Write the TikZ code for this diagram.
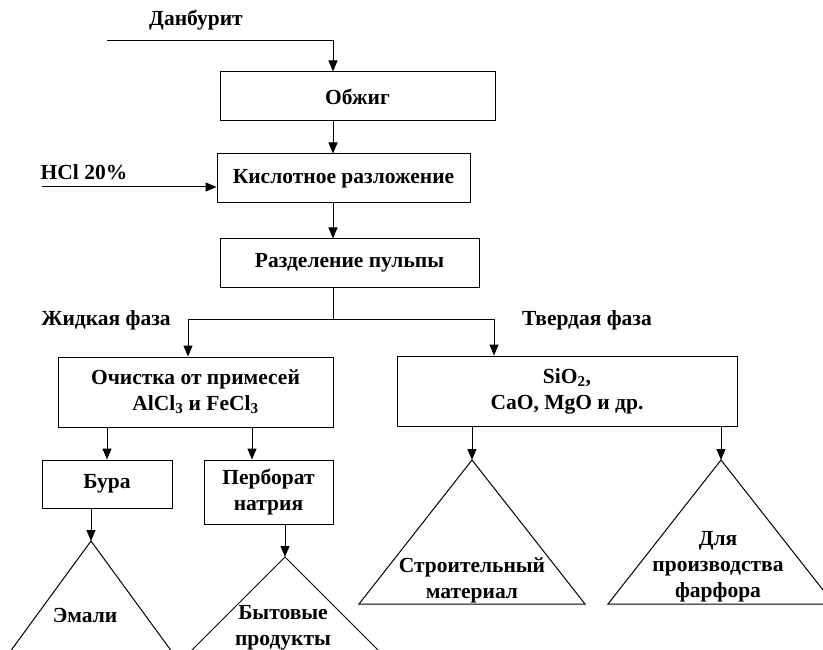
\documentclass[tikz,border=0pt]{standalone}
\usepackage{fontspec}
\setmainfont{Liberation Serif}
\usetikzlibrary{arrows.meta}
\tikzset{
  box/.style={draw, line width=1pt, inner sep=0pt, align=center, font=\bfseries\fontsize{21.5}{26}\selectfont},
  lbl/.style={inner sep=0pt, align=center, font=\bfseries\fontsize{21.5}{26}\selectfont},
  arr/.style={line width=1pt, -{Triangle[length=11pt,width=9pt]}},
  ln/.style={line width=1pt},
  tri/.style={line width=1pt, line join=miter},
}
\begin{document}
\begin{tikzpicture}[x=1pt,y=-1pt]
\useasboundingbox (0,0) rectangle (823,650);
% boxes
\node[box, minimum width=275pt, minimum height=49pt] (obzhig) at (357.5,96.5) {Обжиг};
\node[box, minimum width=253pt, minimum height=49pt] (kisl) at (343.5,178.5) {Кислотное разложение};
\node[box, minimum width=259pt, minimum height=48pt] (razd) at (349.5,263) {Разделение пульпы};
\node[box, minimum width=275pt, minimum height=70pt] (ochist) at (195.5,392) {Очистка от примесей\\AlCl\textsubscript{3} и FeCl\textsubscript{3}};
\node[box, minimum width=340pt, minimum height=70pt] (sio) at (567,391) {SiO\textsubscript{2},\\CaO, MgO и др.};
\node[box, minimum width=130pt, minimum height=48pt] (bura) at (107,484) {Бура};
\node[box, minimum width=129pt, minimum height=64pt] (perb) at (268.5,492) {Перборат\\натрия};
% labels
\node[lbl] (dan) at (196,20) {Данбурит};
\node[lbl] (hcl) at (84,172) {HCl 20\%};
\node[lbl] (zhid) at (106,320) {Жидкая фаза};
\node[lbl] (tverd) at (587,320) {Твердая фаза};
% coordinates
\coordinate (spine) at (333,0);
\coordinate (danstart) at (107,41);
\coordinate (hclstart) at (42,187);
\coordinate (split) at (333,319);
\coordinate (lbr) at (188,319);
\coordinate (rbr) at (494,319);
\coordinate (o1) at (107,0);
\coordinate (o2) at (252,0);
\coordinate (s1) at (472,0);
\coordinate (s2) at (721,0);
% triangles apexes
\coordinate (t1) at (91,541);
\coordinate (t2) at (285,557);
\coordinate (t3) at (472,460);
\coordinate (t4) at (721,460);
% connectors
\draw[arr] (danstart) -- (danstart -| spine) -- (obzhig.north -| spine);
\draw[arr] (obzhig.south -| spine) -- (kisl.north -| spine);
\draw[arr] (hclstart) -- (hclstart -| kisl.west);
\draw[arr] (kisl.south -| spine) -- (razd.north -| spine);
\draw[ln] (razd.south -| spine) -- (split);
\draw[arr] (split) -- (lbr) -- (ochist.north -| lbr);
\draw[arr] (split) -- (rbr) -- (sio.north -| rbr);
\draw[arr] (ochist.south -| o1) -- (bura.north -| o1);
\draw[arr] (ochist.south -| o2) -- (perb.north -| o2);
\draw[arr] (bura.south -| t1) -- (t1);
\draw[arr] (perb.south -| t2) -- (t2);
\draw[arr] (sio.south -| t3) -- (t3);
\draw[arr] (sio.south -| t4) -- (t4);
% triangles
\begin{scope}
\clip (0,0) rectangle (823,650);
\draw[tri] (t1) -- ++(-114,156) -- ++(228,0) -- cycle;
\draw[tri] (t2) -- ++(-144,144) -- ++(288,0) -- cycle;
\draw[tri] (t3) -- (359,604) -- (585,604) -- cycle;
\draw[tri] (t4) -- (608,604) -- (834,604) -- cycle;
\end{scope}
\node[lbl] (emali) at (85,615) {Эмали};
\node[lbl] (byt) at (283,628) {Бытовые\\продукты};
\node[lbl] (stroi) at (472,580) {Строительный\\материал};
\node[lbl] (farf) at (718,567) {Для\\производства\\фарфора};
\end{tikzpicture}
\end{document}
